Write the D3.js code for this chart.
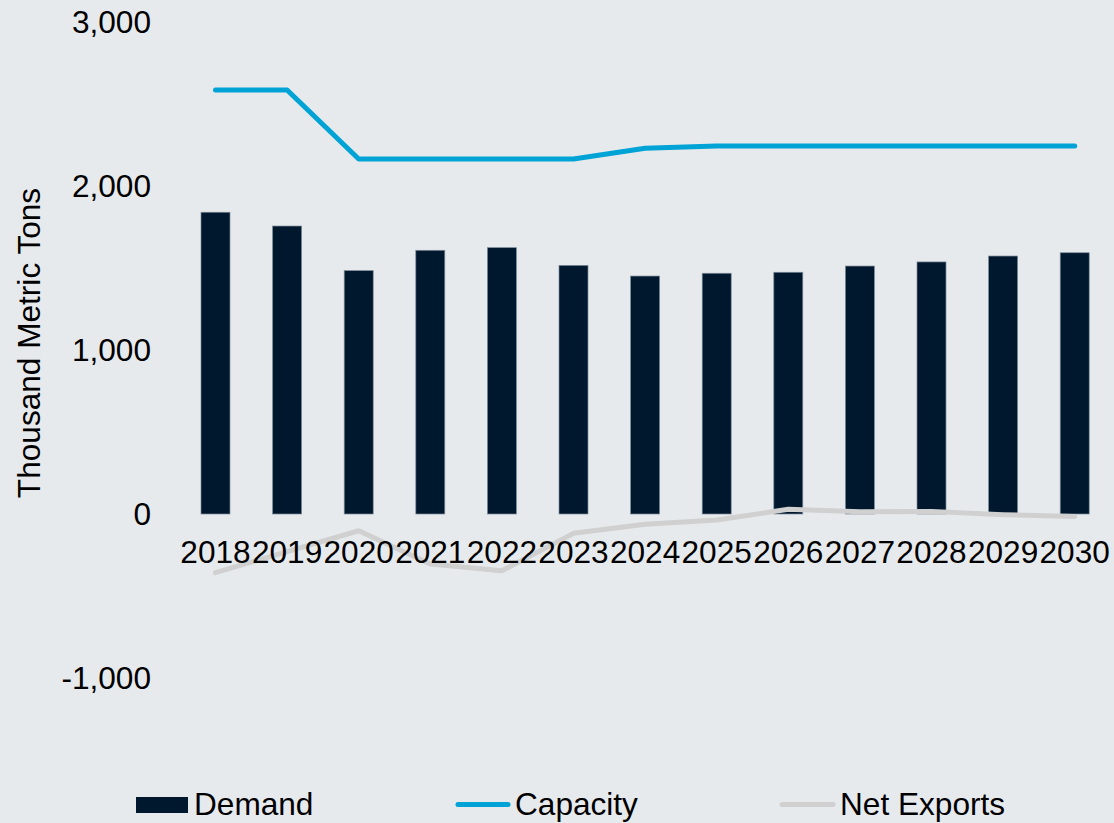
<!DOCTYPE html>
<html>
<head>
<meta charset="utf-8">
<script src="https://cdn.jsdelivr.net/npm/d3@7"></script>
<style>
  html, body { margin: 0; padding: 0; background: #e7eaed; }
  svg { display: block; }
  text { font-family: "Liberation Sans", Arial, sans-serif; fill: #000; }
</style>
</head>
<body>
<svg id="chart" width="1114" height="823"></svg>
<script>
const years = ["2018","2019","2020","2021","2022","2023","2024","2025","2026","2027","2028","2029","2030"];
const demand = [1840, 1756, 1484, 1608, 1624, 1516, 1451, 1468, 1474, 1512, 1537, 1573, 1593];
const capacity = [2585, 2585, 2165, 2165, 2165, 2165, 2230, 2244, 2244, 2244, 2244, 2244, 2244];
const netExports = [-358, -229, -102, -305, -346, -118, -63, -37, 29, 14, 16, -4, -16];
const yTicks = [-1000, 0, 1000, 2000, 3000];
const seriesNames = ["Demand", "Capacity", "Net Exports"];

const colors = { demand: "#00182d", capacity: "#00a3d6", net: "#cfd0cf" };
const fontSize = 31.6;

const svg = d3.select("#chart");
svg.append("rect").attr("width", 1114).attr("height", 823).attr("fill", "#e7eaed");

const x = d3.scaleBand().domain(years).range([179.7, 1110.5]).paddingInner(0.595).paddingOuter(0.2975);
const y = d3.scaleLinear().domain([-1000, 3000]).range([678, 22]);

// Y tick labels
svg.append("g").selectAll("text").data(yTicks).join("text")
  .attr("x", 151).attr("y", d => y(d)).attr("dy", "0.35em")
  .attr("text-anchor", "end").attr("font-size", fontSize)
  .text(d => d3.format(",")(d).replace("−", "-"));

// Y axis title
svg.append("text")
  .attr("transform", `translate(40,343) rotate(-90)`)
  .attr("text-anchor", "middle").attr("font-size", fontSize)
  .text("Thousand Metric Tons");

// Bars
svg.append("g").selectAll("rect").data(years).join("rect")
  .attr("x", d => x(d)).attr("width", x.bandwidth())
  .attr("y", (d, i) => y(demand[i])).attr("height", (d, i) => y(0) - y(demand[i]))
  .attr("fill", colors.demand).attr("stroke", "#7d8b99").attr("stroke-width", 0.7);

const cx = d => x(d) + x.bandwidth() / 2;

// Net exports line
const lineGen = d3.line().x((d, i) => cx(years[i])).y(d => y(d));
svg.append("path").datum(netExports).attr("d", lineGen)
  .attr("fill", "none").attr("stroke", colors.net).attr("stroke-width", 5)
  .attr("stroke-linecap", "round").attr("stroke-linejoin", "round");

// Capacity line
svg.append("path").datum(capacity).attr("d", lineGen)
  .attr("fill", "none").attr("stroke", colors.capacity).attr("stroke-width", 5)
  .attr("stroke-linecap", "round").attr("stroke-linejoin", "round");

// X tick labels
svg.append("g").selectAll("text").data(years).join("text")
  .attr("x", d => cx(d)).attr("y", 563)
  .attr("text-anchor", "middle").attr("font-size", fontSize)
  .text(d => d);

// Legend
const leg = svg.append("g");
leg.append("rect").attr("x", 136).attr("y", 797).attr("width", 52).attr("height", 16).attr("fill", colors.demand);
leg.append("text").attr("x", 194).attr("y", 815).attr("font-size", fontSize).text(seriesNames[0]);
leg.append("line").attr("x1", 458).attr("x2", 508).attr("y1", 804.5).attr("y2", 804.5)
  .attr("stroke", colors.capacity).attr("stroke-width", 5).attr("stroke-linecap", "round");
leg.append("text").attr("x", 515).attr("y", 815).attr("font-size", fontSize).text(seriesNames[1]);
leg.append("line").attr("x1", 782).attr("x2", 833).attr("y1", 804.5).attr("y2", 804.5)
  .attr("stroke", colors.net).attr("stroke-width", 5).attr("stroke-linecap", "round");
leg.append("text").attr("x", 840).attr("y", 815).attr("font-size", fontSize).text(seriesNames[2]);
</script>
</body>
</html>
